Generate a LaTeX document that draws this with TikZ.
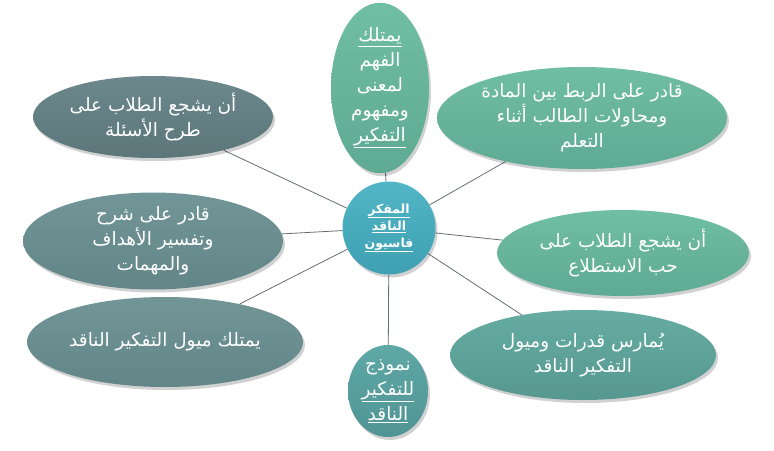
\documentclass[tikz,border=0pt]{standalone}
\usepackage{fontspec}
\usetikzlibrary{shapes.geometric,shadows,backgrounds}
\TeXXeTstate=1
\newfontfamily\arabicfont[Script=Arabic]{DejaVu Sans}
\newcommand{\ar}[1]{\beginR #1\endR}
\newcommand{\aru}[1]{\underline{\beginR #1\endR}}
\definecolor{cgreen}{RGB}{112,190,164}
\definecolor{cgreenD}{RGB}{94,170,146}
\definecolor{cslate}{RGB}{108,136,140}
\definecolor{cslateD}{RGB}{92,118,122}
\definecolor{cslate2}{RGB}{114,150,152}
\definecolor{cslate2D}{RGB}{98,134,136}
\definecolor{cteal}{RGB}{102,172,162}
\definecolor{ctealD}{RGB}{86,152,144}
\definecolor{cround}{RGB}{94,168,166}
\definecolor{croundD}{RGB}{80,148,148}
\definecolor{ccenter}{RGB}{82,182,198}
\definecolor{ccenterD}{RGB}{62,160,178}
\definecolor{linec}{RGB}{100,110,115}
\tikzset{
  bubble/.style={ellipse, inner sep=0pt, align=center, text=white,
    font=\arabicfont\fontsize{18.5}{25}\selectfont,
    drop shadow={shadow xshift=2pt, shadow yshift=-3pt, fill=black, opacity=0.18}},
  greenfill/.style={top color=cgreen, bottom color=cgreenD},
  slatefill/.style={top color=cslate, bottom color=cslateD},
  slate2fill/.style={top color=cslate2, bottom color=cslate2D},
  tealfill/.style={top color=cteal, bottom color=ctealD},
  roundfill/.style={top color=cround, bottom color=croundD},
  link/.style={draw=linec, line width=0.8pt}
}
\begin{document}
\begin{tikzpicture}[x=1pt,y=-1pt]
\useasboundingbox (0,0) rectangle (774,450);
\node[bubble, greenfill, minimum width=98pt, minimum height=146pt] (top) at (380,88)
  {\aru{يمتلك}\\\ar{الفهم}\\\ar{لمعنى}\\\ar{ومفهوم}\\\aru{التفكير}};
\node[bubble, greenfill, minimum width=290pt, minimum height=102pt] (tr) at (582,118)
  {\ar{قادر على الربط بين المادة}\\\ar{ومحاولات الطالب أثناء}\\\ar{التعلم}};
\node[bubble, slatefill, minimum width=240pt, minimum height=82pt] (tl) at (153,117)
  {\ar{أن يشجع الطلاب على}\\\ar{طرح الأسئلة}};
\node[bubble, slate2fill, minimum width=260pt, minimum height=94pt] (ml) at (153,241)
  {\ar{قادر على شرح}\\\ar{وتفسير الأهداف}\\\ar{والمهمات}};
\node[bubble, greenfill, minimum width=252pt, minimum height=86pt] (mr) at (623,253)
  {\ar{أن يشجع الطلاب على}\\\ar{حب الاستطلاع}};
\node[bubble, slate2fill, minimum width=276pt, minimum height=90pt] (bl) at (165,342)
  {\ar{يمتلك ميول التفكير الناقد}};
\node[bubble, tealfill, minimum width=266pt, minimum height=90pt] (br) at (583,355)
  {\ar{يُمارس قدرات وميول}\\\ar{التفكير الناقد}};
\node[bubble, roundfill, minimum width=80pt, minimum height=92pt] (bot) at (388,391)
  {\ar{نموذج}\\\aru{للتفكير}\\\aru{الناقد}};
\node[bubble, circle, top color=ccenter, bottom color=ccenterD, minimum size=93pt,
  font=\arabicfont\bfseries\fontsize{12.5}{17}\selectfont] (c) at (389,228)
  {\aru{المفكر}\\\aru{الناقد}\\\aru{فاسيون}};
\begin{scope}[on background layer]
  \draw[link] (c) -- (top);
  \draw[link] (c) -- (tr);
  \draw[link] (c) -- (tl);
  \draw[link] (c) -- (ml);
  \draw[link] (c) -- (mr);
  \draw[link] (c) -- (bl);
  \draw[link] (c) -- (br);
  \draw[link] (c) -- (bot);
\end{scope}
\end{tikzpicture}
\end{document}
